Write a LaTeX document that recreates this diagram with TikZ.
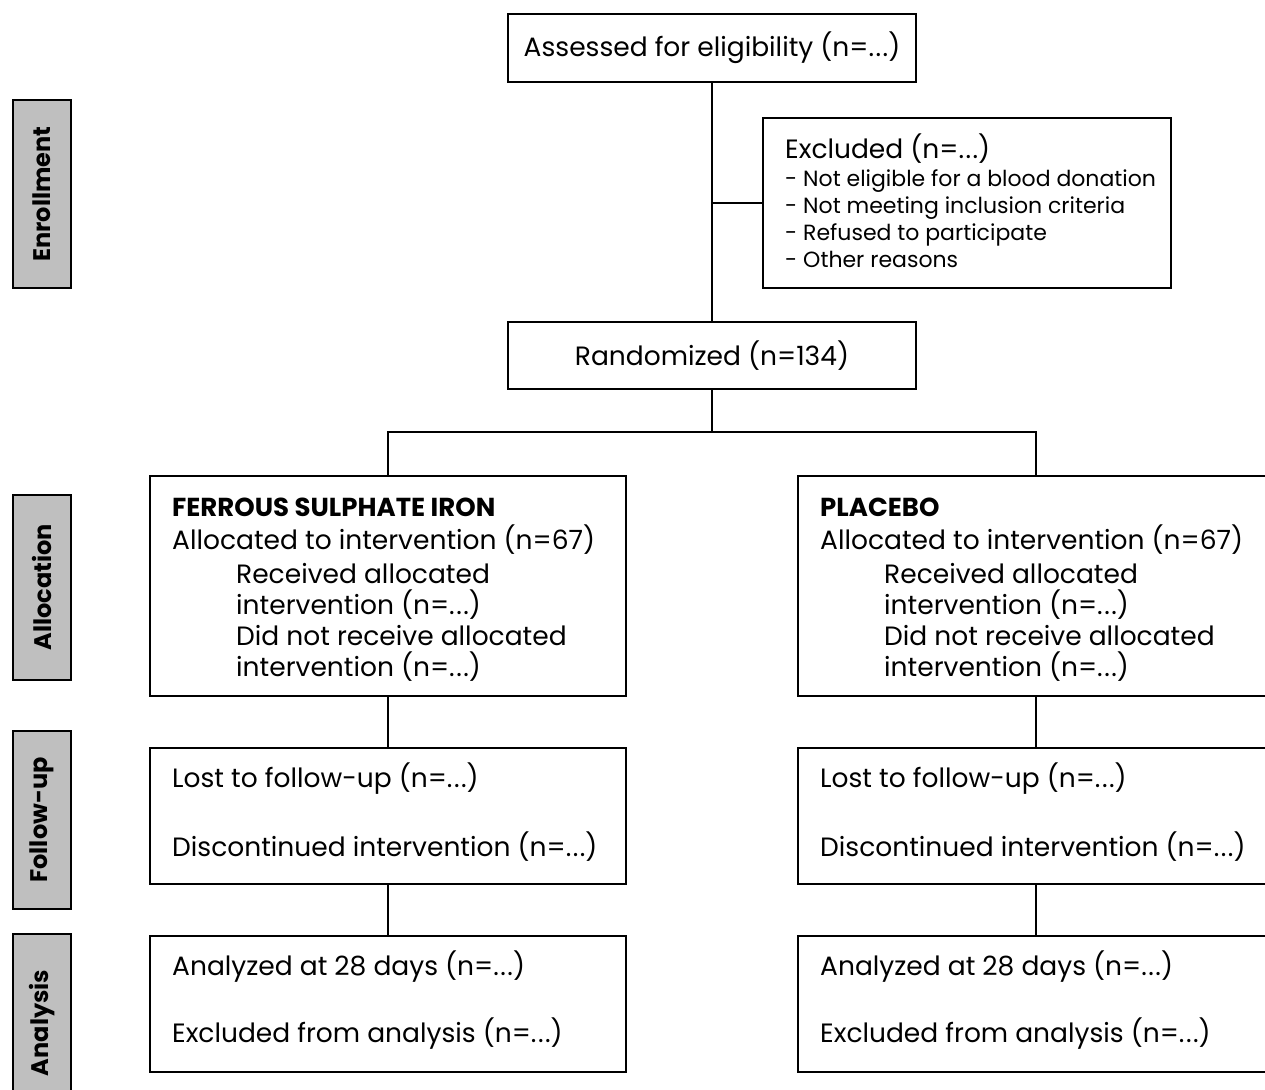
\documentclass[tikz,border=0pt]{standalone}
\usepackage{fontspec}
\setmainfont{Poppins}
\newcommand{\mydots}{.\kern1.5pt.\kern1.5pt.}
\begin{document}
\begin{tikzpicture}[x=1pt,y=-1pt,
  box/.style={draw, line width=2.4pt, inner sep=0pt, fill=white},
  side/.style={draw, line width=2.6pt, fill=black!25, inner sep=0pt, minimum width=58pt},
  sidetxt/.style={rotate=90, font=\fontsize{24}{28}\selectfont\bfseries},
  big/.style={font=\fontsize{26.5}{30}\selectfont, inner sep=0pt, anchor=base west},
  small/.style={font=\fontsize{22}{26}\selectfont, inner sep=0pt, anchor=base west},
  head/.style={font=\fontsize{26}{30}\selectfont\bfseries, inner sep=0pt, anchor=base west},
  conn/.style={line width=2.4pt}]
\useasboundingbox (0,0) rectangle (1265,1089);
\clip (0,0) rectangle (1265,1089);
% boxes
\node[box, minimum width=408pt, minimum height=68pt, font=\fontsize{26.5}{30}\selectfont] (assess) at (712,48) {Assessed for eligibility (n=\mydots)};
\node[box, minimum width=408pt, minimum height=170pt] (excl) at (967,203) {};
\node[box, minimum width=408pt, minimum height=67pt, font=\fontsize{26.5}{30}\selectfont] (rand) at (712,355.5) {Randomized (n=134)};
\node[box, minimum width=476pt, minimum height=220pt] (allocL) at (388,586) {};
\node[box, minimum width=476pt, minimum height=220pt] (allocR) at (1036,586) {};
\node[box, minimum width=476pt, minimum height=136pt] (fuL) at (388,816) {};
\node[box, minimum width=476pt, minimum height=136pt] (fuR) at (1036,816) {};
\node[box, minimum width=476pt, minimum height=136pt] (anL) at (388,1004) {};
\node[box, minimum width=476pt, minimum height=136pt] (anR) at (1036,1004) {};
% side labels
\node[side, minimum height=188pt] (sEn) at (42,194) {};
\node[sidetxt] (tEn) at (sEn.center) {Enrollment};
\node[side, minimum height=185pt] (sAl) at (42,587.5) {};
\node[sidetxt] (tAl) at (sAl.center) {Allocation};
\node[side, minimum height=178pt] (sFu) at (42,820) {};
\node[sidetxt] (tFu) at (sFu.center) {Follow-up};
\node[side, minimum height=178pt] (sAn) at (42,1023) {};
\node[sidetxt] (tAn) at (sAn.center) {Analysis};
% excluded text
\node[big] (e0) at (785,158) {Excluded (n=\mydots)};
\node[small] (e1) at (785,186) {- Not eligible for a blood donation};
\node[small] (e2) at (785,213) {- Not meeting inclusion criteria};
\node[small] (e3) at (785,240) {- Refused to participate};
\node[small] (e4) at (785,267) {- Other reasons};
% allocation left
\node[head] (aL0) at (172,516) {FERROUS SULPHATE IRON};
\node[big] (aL1) at (172,549) {Allocated to intervention (n=67)};
\node[big] (aL2) at (236,583) {Received allocated};
\node[big] (aL3) at (236,614) {intervention (n=\mydots)};
\node[big] (aL4) at (236,645) {Did not receive allocated};
\node[big] (aL5) at (236,676) {intervention (n=\mydots)};
% allocation right
\node[head] (aR0) at (820,516) {PLACEBO};
\node[big] (aR1) at (820,549) {Allocated to intervention (n=67)};
\node[big] (aR2) at (884,583) {Received allocated};
\node[big] (aR3) at (884,614) {intervention (n=\mydots)};
\node[big] (aR4) at (884,645) {Did not receive allocated};
\node[big] (aR5) at (884,676) {intervention (n=\mydots)};
% follow-up
\node[big] (fL1) at (172,787) {Lost to follow-up (n=\mydots)};
\node[big] (fL2) at (172,856) {Discontinued intervention (n=\mydots)};
\node[big] (fR1) at (820,787) {Lost to follow-up (n=\mydots)};
\node[big] (fR2) at (820,856) {Discontinued intervention (n=\mydots)};
% analysis
\node[big] (nL1) at (172,975) {Analyzed at 28 days (n=\mydots)};
\node[big] (nL2) at (172,1042) {Excluded from analysis (n=\mydots)};
\node[big] (nR1) at (820,975) {Analyzed at 28 days (n=\mydots)};
\node[big] (nR2) at (820,1042) {Excluded from analysis (n=\mydots)};
% connectors
\coordinate (j) at (712,432);
\draw[conn] (assess.south) -- (rand.north);
\draw[conn] (assess.south |- excl.west) -- (excl.west);
\draw[conn] (rand.south) -- (j);
\draw[conn] (allocL.north) |- (j) -| (allocR.north);
\draw[conn] (allocL.south) -- (fuL.north);
\draw[conn] (allocR.south) -- (fuR.north);
\draw[conn] (fuL.south) -- (anL.north);
\draw[conn] (fuR.south) -- (anR.north);
\end{tikzpicture}
\end{document}
